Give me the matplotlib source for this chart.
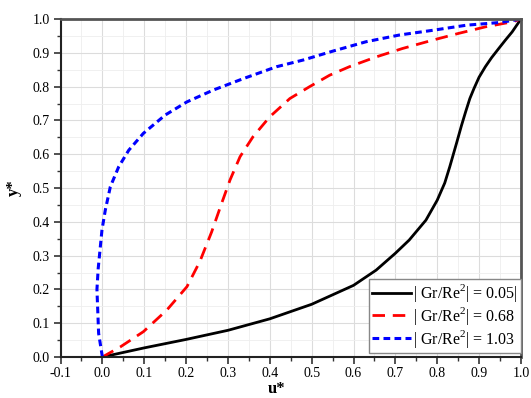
import matplotlib
matplotlib.use("Agg")
import matplotlib.pyplot as plt
from matplotlib.ticker import MultipleLocator

# ---------------- data ----------------
black_u = [0, 0.1, 0.2, 0.3, 0.4, 0.5, 0.6, 0.654, 0.70, 0.733, 0.773, 0.80,
           0.818, 0.83, 0.846, 0.858, 0.868, 0.878, 0.888, 0.90, 0.915, 0.93,
           0.947, 0.963, 0.979, 1.0]
black_y = [0, 0.027, 0.052, 0.079, 0.113, 0.156, 0.212, 0.257, 0.307, 0.346,
           0.405, 0.464, 0.515, 0.563, 0.632, 0.685, 0.726, 0.765, 0.795, 0.828,
           0.859, 0.886, 0.913, 0.938, 0.962, 1.0]

red_u = [0, 0.043, 0.098, 0.154, 0.202, 0.233, 0.261, 0.285, 0.305, 0.329,
         0.36, 0.40, 0.448, 0.495, 0.543, 0.59, 0.654, 0.717, 0.79, 0.852,
         0.915, 0.98, 1.0]
red_y = [0, 0.03, 0.075, 0.139, 0.208, 0.283, 0.37, 0.455, 0.524, 0.593,
         0.652, 0.711, 0.765, 0.80, 0.834, 0.859, 0.888, 0.913, 0.938, 0.958,
         0.977, 0.992, 1.0]

blue_u = [0, -0.009, -0.013, -0.01, -0.007, -0.001, 0.007, 0.019, 0.039,
          0.063, 0.098, 0.15, 0.202, 0.265, 0.337, 0.416, 0.48, 0.55, 0.63,
          0.71, 0.79, 0.87, 0.95, 1.0]
blue_y = [0, 0.07, 0.2, 0.262, 0.3, 0.376, 0.435, 0.504, 0.563, 0.612, 0.662,
          0.716, 0.755, 0.79, 0.824, 0.859, 0.879, 0.905, 0.933, 0.953, 0.967,
          0.982, 0.99, 1.0]

labels = ["| Gr/Re$^2$| = 0.05|", "| Gr/Re$^2$| = 0.68", "| Gr/Re$^2$| = 1.03"]
# ----------------------------------------------------------

plt.rcParams['font.family'] = ['Liberation Serif', 'DejaVu Serif']
plt.rcParams['mathtext.fontset'] = 'custom'
plt.rcParams['mathtext.rm'] = 'Liberation Serif'

fig = plt.figure(figsize=(5.31, 3.98), dpi=100)
ax = fig.add_axes([0.114, 0.103, 0.867, 0.849])

ax.plot(black_u, black_y, color='black', lw=2, label=labels[0])
ax.plot(red_u, red_y, color='red', lw=2, dashes=(4.5, 2.8), label=labels[1])
ax.plot(blue_u, blue_y, color='blue', lw=2.2, dashes=(2.2, 1.4), label=labels[2])

ax.set_xlim(-0.1, 1.0)
ax.set_ylim(0, 1.0)
ax.xaxis.set_major_locator(MultipleLocator(0.1))
ax.xaxis.set_minor_locator(MultipleLocator(0.05))
ax.yaxis.set_major_locator(MultipleLocator(0.1))
ax.yaxis.set_minor_locator(MultipleLocator(0.05))
ax.xaxis.set_major_formatter(lambda v, p: f"{v:.1f}")
ax.yaxis.set_major_formatter(lambda v, p: f"{v:.1f}")

ax.grid(which='major', color='#dcdcdc', lw=0.8)
ax.grid(which='minor', color='#eeeeee', lw=0.6)
ax.set_axisbelow(True)

ax.tick_params(which='major', direction='out', length=5, width=1.2, labelsize=10,
               color='#333333', pad=2.5)
ax.tick_params(which='minor', direction='out', length=3, width=1, color='#333333')

for s in ['left', 'bottom']:
    ax.spines[s].set_linewidth(1.5)
    ax.spines[s].set_color('#222222')
for s in ['top', 'right']:
    ax.spines[s].set_linewidth(2)
    ax.spines[s].set_color('#555555')

ax.set_xlabel('u*', fontsize=12, fontweight='bold')
ax.set_ylabel('y*', fontsize=12, fontweight='bold')
ax.xaxis.set_label_coords(0.47, -0.072)
ax.yaxis.set_label_coords(-0.083, 0.5)

leg = ax.legend(loc='lower right', bbox_to_anchor=(1.0, 0.012), borderaxespad=0,
                fontsize=11.5, fancybox=False, framealpha=1, edgecolor='#888888',
                handlelength=2.4, handletextpad=0.15, labelspacing=0.05,
                borderpad=0.2)
leg.get_frame().set_linewidth(1)

fig.savefig("out.png", dpi=100)
